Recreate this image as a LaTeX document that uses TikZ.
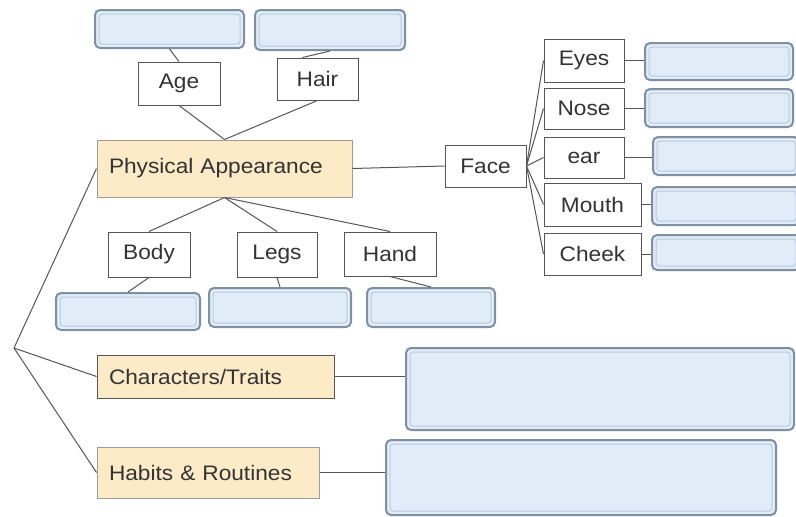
\documentclass[tikz,border=0pt]{standalone}
\usepackage{fontspec}
\setmainfont[FakeStretch=1.08]{Liberation Sans}
\usetikzlibrary{calc}
\definecolor{bluefill}{HTML}{E0ECF7}
\definecolor{blueedge}{HTML}{7E90A2}
\definecolor{blueinner}{HTML}{B9CBDC}
\definecolor{tanfill}{HTML}{FDEBC8}
\definecolor{tanedge}{HTML}{9C9C9C}
\definecolor{boxedge}{HTML}{555555}
\definecolor{linegray}{HTML}{555555}
\definecolor{txt}{HTML}{333333}
\newcommand{\lbl}{\fontsize{21}{25}\selectfont\color{txt}}
\tikzset{
  wbox/.style={draw=boxedge, fill=white, line width=1pt, inner sep=0pt, font=\lbl},
  tbox/.style={draw=tanedge, fill=tanfill, line width=1pt, inner xsep=12pt, inner ysep=0pt, align=left, font=\lbl},
  bbox/.style={draw=blueedge, fill=bluefill, line width=2pt, rounded corners=5pt, inner sep=0pt,
    path picture={\draw[draw=blueinner, line width=1pt, rounded corners=3pt]
      ([shift={(4pt,-4pt)}]path picture bounding box.north west) rectangle
      ([shift={(-4pt,4pt)}]path picture bounding box.south east);}},
  conn/.style={draw=linegray, line width=1pt}
}
\begin{document}
\begin{tikzpicture}[x=1pt,y=-1pt]
\useasboundingbox (0,0) rectangle (796,517);
% top
\node[bbox, minimum width=149pt, minimum height=38pt] (agb) at (169.5,29) {};
\node[bbox, minimum width=150pt, minimum height=40pt] (hab) at (330,30) {};
\node[wbox, minimum width=82pt, minimum height=43pt] (age) at (179,83.5) {Age};
\node[wbox, minimum width=81pt, minimum height=42pt] (hair) at (317.5,79) {Hair};
\node[tbox, text width=231pt, minimum height=57pt] (pa) at (224.5,168.5) {Physical Appearance};
% face
\node[wbox, minimum width=81pt, minimum height=42pt] (face) at (485.5,166) {Face};
\node[wbox, minimum width=80pt, minimum height=43pt] (eyes) at (584,60.5) {Eyes};
\node[wbox, minimum width=80pt, minimum height=41pt] (nose) at (584,108.5) {Nose};
\node[wbox, minimum width=80pt, minimum height=41pt] (ear) at (584,157.5) {ear};
\node[wbox, minimum width=97pt, minimum height=43pt] (mouth) at (592.5,204.5) {Mouth};
\node[wbox, minimum width=97pt, minimum height=42pt] (cheek) at (592.5,254) {Cheek};
\node[bbox, minimum width=148pt, minimum height=37pt] (eyesb) at (719,61.5) {};
\node[bbox, minimum width=148pt, minimum height=38pt] (noseb) at (719,108) {};
\node[bbox, minimum width=146pt, minimum height=38pt] (earb) at (726,156) {};
\node[bbox, minimum width=148pt, minimum height=38pt] (mouthb) at (726,206) {};
\node[bbox, minimum width=148pt, minimum height=35pt] (cheekb) at (726,252.5) {};
% body
\node[wbox, minimum width=82pt, minimum height=45pt] (body) at (149,254.5) {Body};
\node[wbox, minimum width=80pt, minimum height=45pt] (legs) at (277,254.5) {Legs};
\node[wbox, minimum width=92pt, minimum height=44pt] (hand) at (390,254) {Hand};
\node[bbox, minimum width=144pt, minimum height=37pt] (bodyb) at (128,311.5) {};
\node[bbox, minimum width=142pt, minimum height=39pt] (legsb) at (280,307.5) {};
\node[bbox, minimum width=128pt, minimum height=39pt] (handb) at (431,307.5) {};
% lower
\node[tbox, draw=boxedge, text width=213pt, minimum height=43pt] (ct) at (215.5,376.5) {Characters/Traits};
\node[tbox, text width=198pt, minimum height=51pt] (hr) at (208,472.5) {Habits \& Routines};
\node[bbox, minimum width=388pt, minimum height=82pt] (ctb) at (600,389) {};
\node[bbox, minimum width=390pt, minimum height=75pt] (hrb) at (581,477.5) {};
\coordinate (root) at (14,348);
% connectors
\draw[conn] (agb.south) -- (age.north);
\draw[conn] (hab.south) -- ([xshift=-15pt]hair.north);
\draw[conn] (age.south) -- (pa.north);
\draw[conn] (hair.south) -- (pa.north);
\draw[conn] (pa.south) -- (body.north);
\draw[conn] (pa.south) -- (legs.north);
\draw[conn] (pa.south) -- (hand.north);
\draw[conn] (body.south) -- (bodyb.north);
\draw[conn] (legs.south) -- (legsb.north);
\draw[conn] (hand.south) -- (handb.north);
\draw[conn] (pa.east) -- (face.west);
\foreach \n in {eyes,nose,ear,mouth,cheek} {
  \draw[conn] (face.east) -- (\n.west);
  \draw[conn] (\n.east) -- (\n.east -| \n b.west);
}
\draw[conn] (root) -- (pa.west);
\draw[conn] (root) -- (ct.west);
\draw[conn] (root) -- (hr.west);
\draw[conn] (ct.east) -- (ct.east -| ctb.west);
\draw[conn] (hr.east) -- (hr.east -| hrb.west);
\end{tikzpicture}
\end{document}
